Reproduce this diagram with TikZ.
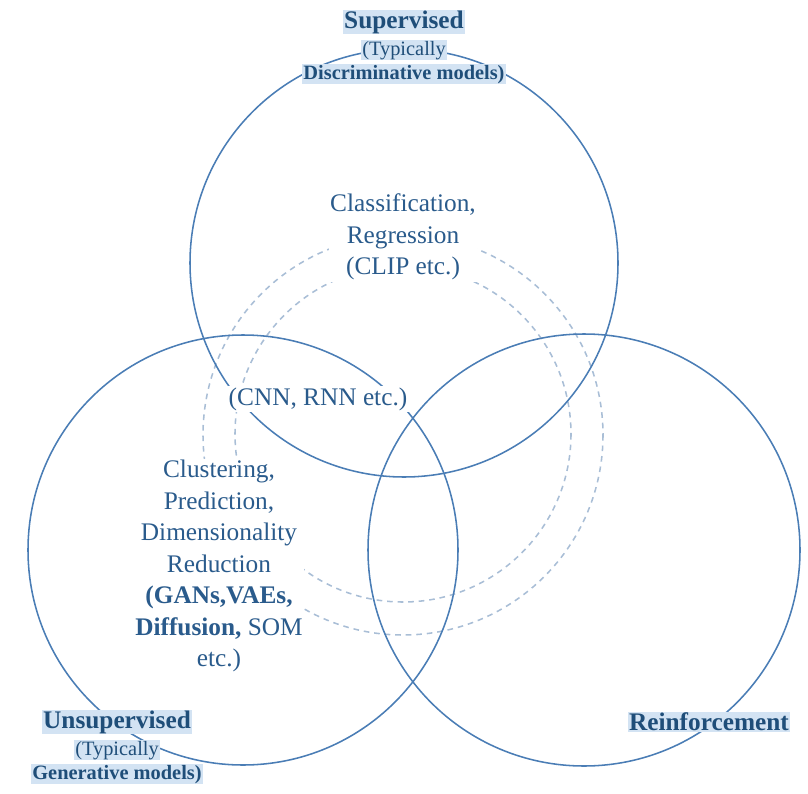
\documentclass[tikz,border=0pt]{standalone}
\usepackage{fontspec}
\setmainfont{Liberation Serif}
\usetikzlibrary{positioning}
\definecolor{ringblue}{HTML}{4A7DB5}
\definecolor{dashblue}{HTML}{A9BED6}
\definecolor{labelblue}{HTML}{1F4E79}
\definecolor{bodyblue}{HTML}{2A5B8C}
\definecolor{hlblue}{HTML}{D3E3F3}

\begin{document}
\begin{tikzpicture}[x=0.025cm,y=-0.025cm,node distance=2pt]
  \tikzstyle{ring}=[draw=ringblue, line width=1.1pt]
  \tikzstyle{dashring}=[draw=dashblue, line width=1.1pt, dash pattern=on 4pt off 3.5pt]
  \tikzstyle{title}=[fill=hlblue, text=labelblue, font=\fontsize{18}{20}\selectfont\bfseries, inner xsep=1pt, inner ysep=0.5pt]
  \tikzstyle{subtitle}=[fill=hlblue, text=labelblue, font=\fontsize{14.5}{16}\selectfont, inner xsep=1pt, inner ysep=0.5pt]
  \tikzstyle{body}=[fill=white, text=bodyblue, align=center, font=\fontsize{18}{22.4}\selectfont, inner sep=1pt]

  \useasboundingbox (0,0) rectangle (808,794);

  % dashed inner rings
  \draw[dashring] (403,435) circle[radius=200];
  \draw[dashring] (403,434) circle[radius=168];

  % the three learning paradigms
  \draw[ring] (404,263) circle[radius=214];
  \draw[ring] (243,550) circle[radius=215];
  \draw[ring] (584,550) circle[radius=216];

  % region texts
  \node[body] at (403,237) (C) {Classification,\\Regression\\(CLIP etc.)};
  \node[body] at (318,399) (N) {(CNN, RNN etc.)};
  \node[body] at (219,566) (U) {Clustering,\\Prediction,\\Dimensionality\\Reduction\\
    \textbf{(GANs,VAEs,}\\\textbf{Diffusion,} SOM\\etc.)};

  % circle labels
  \node[title] at (404,22) (S) {Supervised};
  \node[subtitle] (S1) [below=4pt of S] {(Typically};
  \node[subtitle,font=\fontsize{14.5}{16}\selectfont\bfseries] (S2) [below=2.5pt of S1] {Discriminative models)};

  \node[title] at (117,722) (L) {Unsupervised};
  \node[subtitle] (L1) [below=4pt of L] {(Typically};
  \node[subtitle,font=\fontsize{14.5}{16}\selectfont\bfseries] (L2) [below=2.5pt of L1] {Generative models)};

  \node[title] at (709,722) (R) {Reinforcement};
\end{tikzpicture}
\end{document}
